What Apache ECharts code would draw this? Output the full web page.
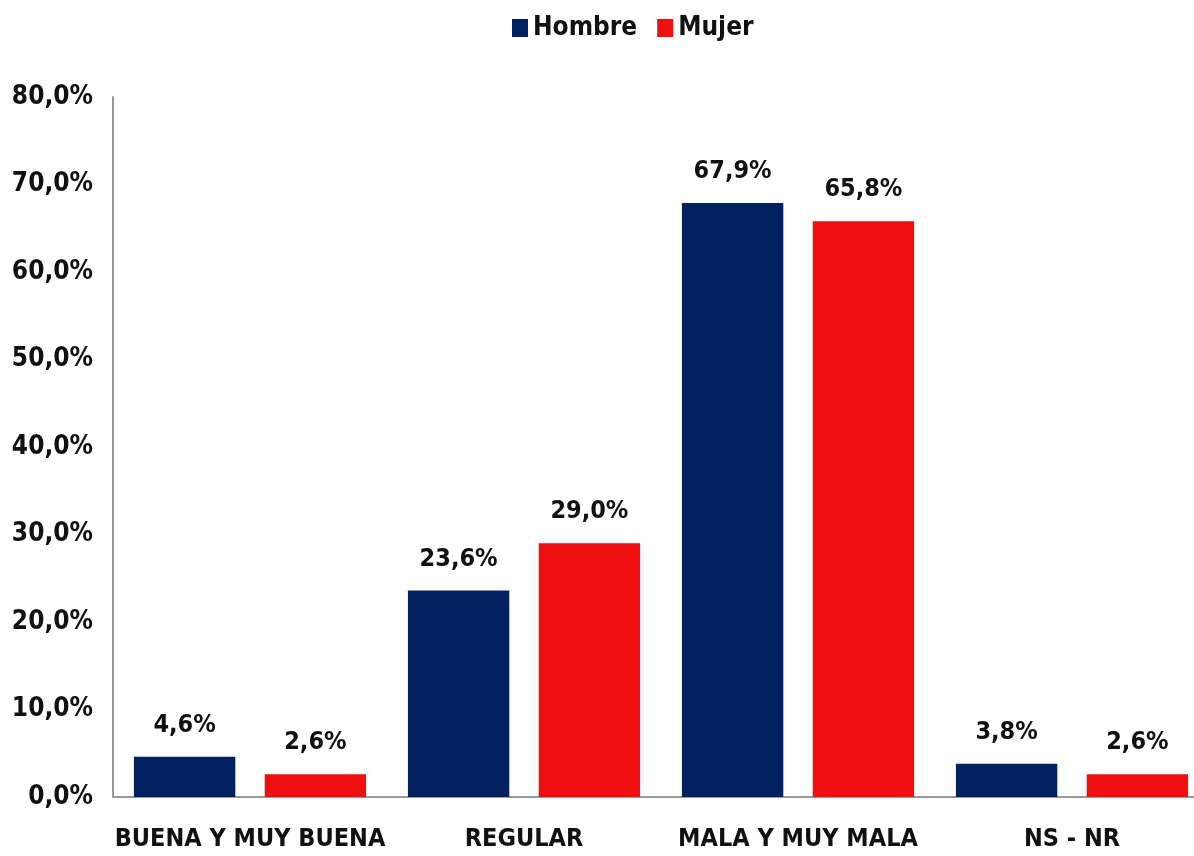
<!DOCTYPE html>
<html>
<head>
<meta charset="utf-8">
<title>Hombre / Mujer</title>
<script src="https://cdn.jsdelivr.net/npm/echarts@6/dist/echarts.min.js"></script>
<style>
    html, body { margin: 0; padding: 0; background: #fff; overflow: hidden; }
    /* chart is a bit wider than the window: the last bar pair is cut at the right edge */
    #chart { width: 1220px; height: 856px; }
</style>
</head>
<body>
<div id="chart"></div>
<script>
var categories = ['BUENA Y MUY BUENA', 'REGULAR', 'MALA Y MUY MALA', 'NS - NR'];
var hombre = [4.6, 23.6, 67.9, 3.8];
var mujer = [2.6, 29.0, 65.8, 2.6];

var font = '"DejaVu Sans Condensed", "Liberation Sans Narrow", "DejaVu Sans", sans-serif';

function pct(v) {
    return v.toFixed(1).replace('.', ',') + '%';
}

var labelStyle = {
    show: true,
    position: 'top',
    distance: 19,
    fontFamily: font,
    fontWeight: 'bold',
    fontSize: 25,
    color: '#111',
    formatter: function (p) { return pct(p.value); }
};

var option = {
    animation: false,
    textStyle: { fontFamily: font },
    legend: {
        top: 10,
        left: 507,
        itemWidth: 16,
        itemHeight: 18,
        itemGap: 20,
        icon: 'rect',
        textStyle: { fontSize: 26, fontWeight: 'bold', color: '#111', fontFamily: font },
        data: ['Hombre', 'Mujer']
    },
    grid: {
        left: 113,
        right: 11,
        top: 97,
        height: 700,
        containLabel: false
    },
    xAxis: {
        type: 'category',
        data: categories,
        axisLine: { lineStyle: { color: '#999', width: 2 } },
        axisTick: { show: false },
        axisLabel: { interval: 0, fontSize: 25, fontWeight: 'bold', color: '#111', margin: 30, fontFamily: font }
    },
    yAxis: {
        type: 'value',
        min: 0,
        max: 80,
        interval: 10,
        axisLine: { show: true, lineStyle: { color: '#999', width: 2 } },
        axisTick: { show: false },
        splitLine: { show: false },
        axisLabel: {
            fontSize: 26, fontWeight: 'bold', color: '#111', margin: 20, fontFamily: font,
            formatter: function (v) { return pct(v); }
        }
    },
    series: [
        {
            name: 'Hombre',
            type: 'bar',
            data: hombre,
            barWidth: '37%',
            barGap: '29%',
            itemStyle: { color: '#002060' },
            label: labelStyle
        },
        {
            name: 'Mujer',
            type: 'bar',
            data: mujer,
            barWidth: '37%',
            itemStyle: { color: '#F00F0F' },
            label: labelStyle
        }
    ]
};

var myChart = echarts.init(document.getElementById('chart'));
myChart.setOption(option);
</script>
</body>
</html>
